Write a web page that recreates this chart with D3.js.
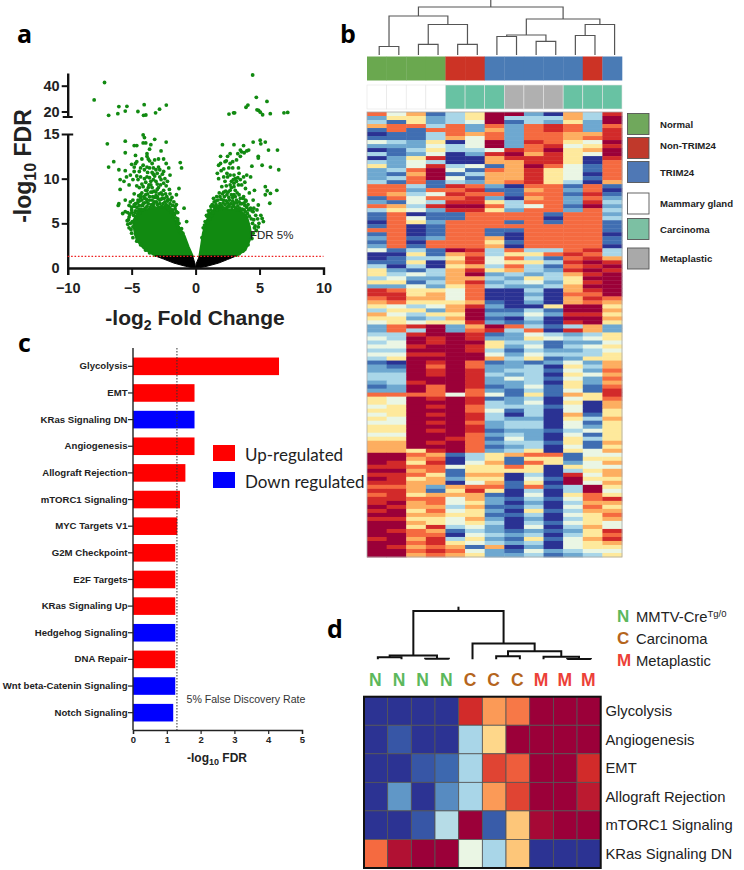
<!DOCTYPE html>
<html><head><meta charset="utf-8">
<script src="https://cdnjs.cloudflare.com/ajax/libs/d3/7.8.5/d3.min.js"></script>
<style>
html,body{margin:0;padding:0;background:#fff}
svg{display:block;font-family:"Liberation Sans",Arial,sans-serif}
</style></head><body><div id="c"></div>
<script>
// ---------- panel a : volcano ----------
const volcanoUpperLeft=[[-7.12,42.5],[-7.93,29],[-6.8,17],[-6,23.8],[-6.08,18.3],[-5.37,24],[-5.5,20.3],[-4.51,20],[-4.02,25.3],[-4.07,17],[-3.89,17.3],[-3.13,19],[-2.82,21.8],[-2.29,25]];
const volcanoUpperRight=[[4.46,48.3],[4.75,31],[4.09,25],[3.94,23.3],[5.58,27.8],[2.61,18],[2.97,19],[3.05,19],[4.8,21.3],[4.93,20.8],[5.06,19.5],[5.24,17.5],[5.84,18.3],[6.91,19],[7.2,19.3]];
const volcanoLeft=[[-6.9,13.9],[-5.5,14.2],[-5.5,12.9],[-4.8,13.7],[-4.6,13.7],[-4.1,14.9],[-4,14.6],[-4.1,14],[-3.9,14],[-3.2,14.4],[-3.5,13.8],[-3.6,13.3],[-3.8,12.8],[-3.8,12.5],[-2.3,14.1],[-2.7,13.1],[-6.4,11.9],[-6.8,11.3],[-4.7,12.6],[-4.7,11.7],[-4.6,11.9],[-4.8,11.3],[-6,11],[-5.5,10.9],[-4.2,12.2],[-3.7,12.2],[-3.6,12],[-2.9,12.2],[-2.5,12.2],[-1.2,11.8],[-1.1,11.2],[-2.3,11.7],[-2.1,11.2],[-4.3,11.2],[-4,11],[-3.6,11.2],[-3.3,11.2],[-3.1,11],[-2.9,11.3],[-2.8,11],[-2.5,10.8],[-5.9,9.9],[-5.4,10.2],[-5.1,10.4],[-5.6,9.7],[-5.2,9.3],[-4.9,9.9],[-4.5,9.9],[-4.3,10.2],[-3.8,10.2],[-3.3,9.9],[-3.1,9.7],[-3.5,9.3],[-2.8,10.2],[-2.4,10],[-2,10.4],[-1.3,8.9],[-5.9,8.8],[-4.1,9.1],[-3.8,8.7],[-4.8,8.3],[-4.3,8.2],[-3.4,8.5],[-3.1,8.5],[-2.5,8.7],[-2,8.3],[-1.5,8.2],[-6,7.2],[-6.05,7],[-5.7,6.1],[-5.5,6.3],[-0.9,6.7],[-0.7,5.2],[-5.5,7.6],[-5.1,7.4],[-4.9,7.6],[-4.5,7.6],[-5.2,7],[-5,6.8],[-4.7,7.2],[-4.4,7],[-4.2,7.6],[-4,7.8],[-3.8,7.4],[-3.6,8],[-3.4,7.6],[-3.2,7.9],[-3,8],[-2.8,7.6],[-2.6,7.8],[-2.4,7.4],[-2.2,7.5],[-2,7.2],[-1.8,7],[-1.6,6.6],[-1.4,6.2],[-1.5,7.1],[-3.9,8.2],[-3.7,9],[-3.5,9.7],[-3.3,10.5],[-4.6,10.3],[-3.9,9.6],[-2.9,9],[-2.7,8.4],[-4.4,6.6],[-3,7.1],[-5.3,6.2],[-5,6.2],[-4.7,6.4],[-5.2,5.7],[-5.1,5],[-5.2,4.5],[-5,3.9],[-4.9,3.4],[-4.6,3],[-4.3,2.6],[-3.9,2],[-3.6,1.7],[-1.4,5.5],[-1.1,4.4],[-1,3.9],[-5.35,5.3],[-4.8,6.9],[-4.1,7.2],[-3.3,7.2],[-2.1,6.9],[-1.75,6.2],[-1.45,5.1]];
const volcanoLeftB=[[-5.3,4.9],[-5.25,5.4],[-5.15,6],[-5.05,4.3],[-5,6.5],[-4.95,5.2],[-4.9,4.6],[-4.85,5.9],[-4.8,7.1],[-4.75,6.2],[-4.7,3.8],[-4.65,5.6],[-4.6,6.8],[-4.55,7.3],[-4.5,6.4],[-4.45,8.1],[-4.4,7.5],[-4.35,6.2],[-4.3,7.9],[-4.25,6.6],[-4.2,8.4],[-4.15,7],[-4.1,6.5],[-4.05,8],[-4,7.3],[-3.95,6.7],[-3.9,8.7],[-3.85,7.7],[-3.8,6.9],[-3.75,8.3],[-3.7,7.2],[-3.65,9.3],[-3.6,7.6],[-3.55,6.8],[-3.5,8.5],[-3.45,7.1],[-3.4,9],[-3.35,8],[-3.3,6.9],[-3.25,8.6],[-3.2,7.4],[-3.15,6.7],[-3.1,8.1],[-3.05,7.4],[-3,8.8],[-2.95,7.8],[-2.9,6.8],[-2.85,8.3],[-2.8,7.2],[-2.75,9.3],[-2.7,7.7],[-2.65,6.9],[-2.6,8.2],[-2.55,7.2],[-2.5,9.5],[-2.45,7.8],[-2.4,6.9],[-2.35,8.3],[-2.3,7.1],[-2.25,8],[-2.2,6.8],[-2.15,7.7],[-2.1,6.5],[-2.05,8.8],[-2,6.7],[-1.95,7.6],[-1.9,6.3],[-1.85,7.9],[-1.8,6.5],[-1.75,5.7],[-1.7,7.4],[-1.65,6],[-1.6,6.9],[-1.55,5.6],[-1.5,6.3],[-1.45,4.8],[-1.4,5.3],[-1.35,4.5],[-1.3,5],[-1.25,4.1],[-1.15,3.9],[-4.6,9.2],[-4.2,9.4],[-4,10],[-3.75,10.7],[-3.6,10.1],[-3.4,10.7],[-3.2,10.3],[-3,10.6],[-3,9.4],[-2.7,9.9],[-2.6,10.5],[-2.3,9.2],[-2.2,9.7],[-4.4,9],[-4.4,10.8],[-4.8,10.8],[-5,11.6],[-4.1,11.5],[-3.8,11.3],[-3.4,11.7],[-3.2,12.1]];
const volcanoRight=[[2.1,13.8],[3,13.8],[3.75,13.7],[4.5,14.1],[5.05,14.3],[5.45,14.1],[5.1,13.9],[5.7,13.2],[6.4,13.2],[2.7,12.8],[1.95,12.5],[2.3,11.9],[1.95,11.7],[2.7,11.7],[3.5,12.5],[3.6,13],[4.15,13.2],[3.5,13.2],[4.4,11.4],[5.2,11.5],[5.85,11.3],[6.5,11],[4.9,12.5],[4.9,12.3],[1.8,11.5],[1.7,10.6],[2.6,11.2],[2.45,10.6],[3,10.4],[3.35,11.2],[4,10.4],[3.75,10.2],[3.1,10],[3,9.5],[3.2,9.7],[1.8,10],[2.3,9.7],[2.05,9.1],[2.7,8.7],[3.35,9.3],[3.9,8.9],[5.45,9.1],[5.6,8.65],[5.85,8.35],[6.35,8.7],[5.45,8.2],[5.8,7.25],[4.5,7.6],[4.9,7.05],[3.75,8],[3,8.2],[2.45,8.2],[1.4,7.8],[1.65,8],[2.2,7.6],[3.5,7.2],[1.4,6.9],[4.15,6.5],[4.8,6.5],[5.2,5.55],[5.3,5.2],[4.55,5.4],[4.9,4.6],[4.5,3.9],[2.6,7.9],[2.9,7.5],[3.2,7.6],[3.4,8.2],[2.2,8.5],[2.4,9.2],[2.8,9],[3.1,8.7],[1.9,8],[4.1,7.1],[4.3,6.7],[1,6.4],[0.85,5.9],[3.8,7.3],[2,7],[2.6,7],[3,6.9],[3.3,6.95],[4.5,6.3],[0.75,5.2],[0.6,4.5],[0.5,3.4],[4.65,4.7],[4.4,3.3],[4.1,2.6],[3.7,1.9],[3.4,1.6],[3.9,7.6],[1.6,7.5],[1.2,6.9],[2.95,9.9]];
const volcanoRightB=[[0.7,4.8],[0.75,4.3],[0.9,5.8],[0.95,5.1],[1.05,6.1],[1.1,5.5],[1.2,6.5],[1.25,5.9],[1.3,7.1],[1.35,6.2],[1.45,7.4],[1.5,6.6],[1.55,6.9],[1.6,7.1],[1.7,6.5],[1.75,7.6],[1.8,6.9],[1.85,8.4],[1.9,7.2],[1.95,6.6],[2,7.7],[2.05,6.9],[2.1,8.3],[2.15,7.3],[2.2,6.7],[2.25,8],[2.3,7.1],[2.35,8.6],[2.4,7.5],[2.45,6.8],[2.5,7.3],[2.55,8.5],[2.6,6.9],[2.65,7.6],[2.7,9.3],[2.75,7.2],[2.8,8.2],[2.85,6.8],[2.9,7.9],[2.95,7.1],[3,9.1],[3.05,7.3],[3.1,8],[3.15,6.7],[3.2,7.3],[3.25,8.4],[3.3,6.6],[3.4,7.4],[3.45,6.7],[3.5,7.8],[3.55,6.5],[3.6,7.2],[3.65,6.6],[3.7,7.8],[3.8,6.5],[3.85,7],[3.9,6.3],[3.95,7.5],[4,6.8],[4.05,6.1],[4.2,5.8],[4.35,5.5],[4.4,6.4],[4.45,5],[4.55,6.7],[4.6,4.5],[4.7,5.9],[4.75,4.2],[4.85,5.5],[4.95,5],[5.1,5.9],[2.2,10.2],[2.5,10.2],[2.7,10.4],[2.8,9.7],[3.3,10.1],[3.5,9.9],[3.6,9.3],[3.4,10.6],[2.2,11.1],[2.4,12],[2.9,11.9],[3.2,12.1],[3.8,12.9],[4,13.1],[3.3,12.8],[2.5,12.5],[2,10.9],[2.9,11.2],[3.85,9.6],[4.3,10.2],[4.2,8.4],[4.6,8.7]];
const denseLeft=[[-3.15,1.35],[-4.07,2.2],[-4.6,3.1],[-4.8,4.25],[-4.9,5.2],[-4.5,6.3],[-3.5,6.7],[-2.5,6.8],[-1.9,6.3],[-1.6,5.3],[-1.2,4.4],[-0.86,3.6],[-0.55,2.4],[-0.23,1.35]];
const denseRight=[[0.3,1.35],[0.44,2.6],[0.57,3.9],[0.83,5.2],[1.15,6.2],[1.7,6.8],[2.45,6.6],[3.5,6.4],[4,5.8],[4.25,4.6],[4.35,3.5],[3.9,2],[3.18,1.35]];
const nonSigLeft=[[-3.15,1.35],[-2.5,1],[-1.7,0.55],[-0.8,0.2],[0,-0.05],[-0.05,0.5],[-0.23,1.35]];
const nonSigRight=[[3.18,1.35],[2.5,0.95],[1.8,0.55],[0.9,0.2],[0,-0.05],[0.05,0.5],[0.3,1.35]];
const volcanoXTicks=[-10,-5,0,5,10];
const volcanoYTicks=[0,5,10,15];
const volcanoUpperTicks=[20,40];
const fdrLine=1.3;

// ---------- panel b : heat map ----------
const sampleGroups=["N","N","N","N","O","O","T","T","T","T","T","O","T"];
const tissueGroups=["M","M","M","M","C","C","C","P","P","P","C","C","C"];
const heatRowsB=[
"7461359920638","2552359333639","3152349132529","6773727278727","1717726278728","0113767277668","1113647277678",
"4325049287549","2224349278458","0135334879569","3124028968549","0258006888508","3243006688507","5248341697417",
"2379417685417","2169136685407","2379416685417","3171326785306","7731872077171","7727781167270","7634877177181",
"1747782067272","2143885377283","7638997347192","3542885277273","1701177771772","1741177770773","0752777171771",
"1701777777771","7701771177771","1701771077770","2712776077771","1707775177771","2717776077770","4131983733783",
"0051673557873","0133584731786","1150684553898","3030563731789","5213685632898","5343692323689","3422663253599",
"5513682342589","2242573223699","8755470030689","8856470020779","7866470030687","6755561020676","5434682005995",
"3552691131996","6435592242885","5523691030996","4545582120895","2789269731362",
"2739278370862","3389981243235","4398982254345","3498995331224","4489985241345","3399983132234","4488994243335",
"3599996351255","1098971212426","2197972230536","2298982331427","3398983230546","3399982431427","2389982230526",
"1297981241517","2297972131418","7777474151658","5498981230457","5499983240506","4598973331406","5599974130405",
"4598983030615","5499983220536","4498972330415","5599982330425","5598981221345","4499972320415","5599871420535",
"6698972331516","6699971230415","6658972350546","9976135677144","9967035155155","9858046175246","8877455750544",
"9967155550356","8875166030846","9856255041955","8866046150946","7762677171395","8861585030394","7856661040575",
"8877462131478","8967452020366","9866361130475","8957452051366","9966551130457","8855462020356","9965453031454",
"9958342040364","9876132121258","9977043230357","8968352151468","9978543230456","9867616020455","9978742142344",
"9967652231235"];
const treeB={h:48,c:[{h:39,c:[{h:8.5,c:[0,1]},{h:30.5,c:[{h:10.7,c:[2,3]},{h:10.7,c:[4,5]}]}]},{h:36,c:[{h:20,c:[{h:18.5,c:[6,7]},{h:13.7,c:[8,9]}]},{h:30.5,c:[{h:19.5,c:[10,11]},12]}]}]};
const legendB=[["Normal","N"],["Non-TRIM24","O"],["TRIM24","T"],["Mammary gland","M"],["Carcinoma","C"],["Metaplastic","P"]];

// ---------- panel c : bars ----------
const pathways=["Glycolysis","EMT","KRas Signaling DN","Angiogenesis","Allograft Rejection","mTORC1 Signaling","MYC Targets V1","G2M Checkpoint","E2F Targets","KRas Signaling Up","Hedgehog Signaling","DNA Repair","Wnt beta-Catenin Signaling","Notch Signaling"];
const pathwayFdr=[4.32,1.82,1.82,1.82,1.55,1.39,1.31,1.25,1.25,1.25,1.25,1.25,1.25,1.19];
const pathwayDir=["U","U","D","U","U","U","U","U","U","U","D","U","D","D"];

// ---------- panel d : pathway heat map ----------
const sampleLettersD=["N","N","N","N","C","C","C","M","M","M"];
const pathwaysD=["Glycolysis","Angiogenesis","EMT","Allograft Rejection","mTORC1 Signaling","KRas Signaling DN"];
const heatRowsD=[
[0,0,0,0,8,6.3,6.8,9,9,9],
[0,0.6,0,0,3,5.3,9,9,9,9],
[0,0,0.6,0.9,3,7.6,7.2,9,9,8],
[0,1.7,0,1.5,3,6.3,7.6,9,9,8.4],
[0,0,0.6,3.2,9,0.7,5.6,8.8,9,9],
[7,8.6,9,9,4,3,5.6,0,0,0]];
const treeD={h:46,c:[{h:3.5,c:[{h:2,c:[0,1]},{h:0.5,c:[2,3]}]},{h:15,c:[4,{h:7.7,c:[{h:3,c:[5,6]},{h:2.5,c:[7,{h:0.3,c:[8,9]}]}]}]}]};
const legendD=[["N","MMTV-Cre"],["C","Carcinoma"],["M","Metaplastic"]];

// ---------- colours ----------
const heatColor=d3.scaleLinear().domain([0,1,2,3,4,5,6,7,8,9])
  .range(["#2c3393","#3f6eb2","#6ea8d0","#a9d6e8","#eaf6e4","#fee99c","#fdae61","#f56a40","#d22b2a","#9b0039"]);
const sampleColor={N:"#6aa84f",O:"#cc3325",T:"#4a7bb5"};
const tissueColor={M:"#ffffff",C:"#68c2a3",P:"#b0b0b0"};
const legendBColor={N:"#70a85c",O:"#c0392b",T:"#4f78b5",M:"#ffffff",C:"#7cc0a3",P:"#a9a9a9"};
const dirColor={U:"#ff0000",D:"#0000ff"};
const letterColor={N:"#5cb85c",C:"#b5651d",M:"#ec4138"};

const svg=d3.select("#c").append("svg").attr("width",744).attr("height",870);
const defs=svg.append("defs");
defs.append("filter").attr("id","soft").attr("x","-2%").attr("y","-2%").attr("width","104%").attr("height","104%")
  .append("feGaussianBlur").attr("stdDeviation","0.5 0.7");
const label=(x,y,t)=>svg.append("text").attr("x",x).attr("y",y).text(t)
  .attr("font-family","'Open Sans',sans-serif").attr("font-weight",700).attr("font-size",25).attr("fill","#000");
label(17,43,"a");label(340,43,"b");label(18,352,"c");label(327,638,"d");

// ---- panel a
const xV=d3.scaleLinear().domain([-10,10]).range([67.7,323.5]);
const yV=d3.scaleLinear().domain([0,15]).range([268,134]);
const yU=d3.scaleLinear().domain([20,40]).range([111.5,85.7]);
const green="#118a11";
const gA=svg.append("g");
const areaLine=d3.line().x(d=>xV(d[0])).y(d=>yV(d[1])).curve(d3.curveLinear);
[denseLeft,denseRight].forEach(p=>gA.append("path").attr("d",areaLine(p)+"Z").attr("fill",green).attr("stroke",green).attr("stroke-width",2));
gA.selectAll("circle.l").data(volcanoLeft.concat(volcanoLeftB,volcanoRight,volcanoRightB)).join("circle").attr("class","l")
  .attr("cx",d=>xV(d[0])).attr("cy",d=>yV(d[1])).attr("r",1.9).attr("fill",green);
gA.selectAll("circle.u").data(volcanoUpperLeft.concat(volcanoUpperRight)).join("circle").attr("class","u")
  .attr("cx",d=>xV(d[0])).attr("cy",d=>yU(d[1])).attr("r",1.9).attr("fill",green);
[nonSigLeft,nonSigRight].forEach(p=>gA.append("path").attr("d",areaLine(p)+"Z").attr("fill","#000").attr("stroke","#000"));
const axisStyle=(g,fs)=>{g.select(".domain").attr("stroke-width",2.4).attr("stroke","#111");
  g.selectAll(".tick line").attr("stroke-width",2).attr("stroke","#111");
  g.selectAll("text").attr("font-size",fs).attr("font-weight",700).attr("fill","#222");};
const axX=svg.append("g").attr("transform","translate(0,268)")
  .call(d3.axisBottom(xV).tickValues(volcanoXTicks).tickSize(7).tickSizeOuter(7).tickFormat(d3.format("d")));
axisStyle(axX,14.5);axX.selectAll("text").attr("dy",0).attr("y",25);
const axY=svg.append("g").attr("transform","translate(67.7,0)")
  .call(d3.axisLeft(yV).tickValues(volcanoYTicks).tickSize(6).tickSizeOuter(0));
axisStyle(axY,14.5);axY.selectAll("text").attr("x",-8);
axY.selectAll(".tick").filter(d=>d===15).select("line").attr("x1",5.5).attr("x2",-6);
axY.selectAll(".tick").filter(d=>d===0).select("line").attr("x2",0);
const axU=svg.append("g").attr("transform","translate(67.7,0)")
  .call(d3.axisLeft(yU.copy().domain([yU.invert(117),yU.invert(73)]).range([117,73])).tickValues(volcanoUpperTicks).tickSize(6).tickSizeOuter(0));
axisStyle(axU,14.5);axU.selectAll("text").attr("x",-8);
axU.append("line").attr("x1",-5).attr("x2",5).attr("y1",117).attr("y2",117).attr("stroke","#111").attr("stroke-width",2);
svg.append("line").attr("x1",xV(-10)).attr("x2",xV(10)).attr("y1",yV(fdrLine)).attr("y2",yV(fdrLine))
  .attr("stroke","#ee2222").attr("stroke-width",1.4).attr("stroke-dasharray","1.6 1.8");
svg.append("text").attr("x",250).attr("y",239).attr("font-size",11.5).attr("fill","#222").text("FDR 5%");
const ylab=svg.append("text").attr("transform","translate(31,166) rotate(-90)").attr("text-anchor","middle")
  .attr("font-size",23).attr("font-weight",700).attr("fill","#222");
ylab.append("tspan").text("-log");ylab.append("tspan").text("10").attr("font-size",16).attr("dy",5);ylab.append("tspan").text(" FDR").attr("dy",-5);
const xlab=svg.append("text").attr("x",195).attr("y",325).attr("text-anchor","middle")
  .attr("font-size",21).attr("font-weight",700).attr("fill","#222");
xlab.append("tspan").text("-log");xlab.append("tspan").text("2").attr("font-size",14).attr("dy",5);xlab.append("tspan").text(" Fold Change").attr("dy",-5);

// ---- dendrogram helper
function drawTree(root,xOf,yOf,baseH,stroke,width,top){
  const g=svg.append("g").attr("fill","none").attr("stroke",stroke).attr("stroke-width",width);
  const walk=n=>{
    if(typeof n==="number")return {x:xOf(n),y:yOf(baseH)};
    const kids=n.c.map(walk);
    const y=yOf(n.h);
    const x=d3.mean(kids,k=>k.x);
    g.append("path").attr("d",d3.line()([[kids[0].x,kids[0].y],[kids[0].x,y],[kids[1].x,y],[kids[1].x,kids[1].y]]));
    return {x,y};
  };
  const r=walk(root);
  g.append("line").attr("x1",r.x).attr("x2",r.x).attr("y1",r.y).attr("y2",top);
}

// ---- panel b
const cols=d3.range(13);
const xB=d3.scaleBand().domain(cols).range([367,622]);
const yB=d3.scaleBand().domain(d3.range(heatRowsB.length)).range([112,557]);
drawTree(treeB,i=>xB(i)+xB.bandwidth()/2+2.4,d3.scaleLinear().domain([0,55]).range([55,0]),0,"#555",1.2,0);
svg.append("g").selectAll("rect").data(sampleGroups).join("rect")
  .attr("x",(d,i)=>xB(i)).attr("width",xB.bandwidth()+.3).attr("y",56.5).attr("height",24).attr("fill",d=>sampleColor[d]);
svg.append("g").selectAll("rect").data(tissueGroups).join("rect")
  .attr("x",(d,i)=>xB(i)).attr("width",xB.bandwidth()).attr("y",85).attr("height",24).attr("fill",d=>tissueColor[d])
  .attr("stroke","#e4e4e4").attr("stroke-width",.6);
const gB=svg.append("g").attr("filter","url(#soft)");
heatRowsB.forEach((row,r)=>{
  gB.selectAll(null).data(row.split("").map(Number)).join("rect")
    .attr("x",(d,i)=>xB(i)).attr("y",yB(r)).attr("width",xB.bandwidth()+.4).attr("height",yB.bandwidth()+.4)
    .attr("fill",d=>heatColor(d));
});
svg.append("rect").attr("x",367).attr("y",112).attr("width",255).attr("height",445).attr("fill","none").attr("stroke","#aaa").attr("stroke-width",.8);
const legY=d3.scaleOrdinal().domain(legendB.map(d=>d[1])).range([113.5,137.5,161.5,193,218.5,248]);
const gL=svg.append("g").selectAll("g").data(legendB).join("g").attr("transform",d=>`translate(627.5,${legY(d[1])})`);
gL.append("rect").attr("width",21.5).attr("height",21).attr("fill",d=>legendBColor[d[1]]).attr("stroke","#555").attr("stroke-width",.9);
gL.append("text").attr("x",32.5).attr("y",d=>d[1]==="O"?11:14).text(d=>d[0]).attr("font-size",9.6).attr("font-weight",700).attr("fill","#222");

// ---- panel c
const xC=d3.scaleLinear().domain([0,5]).range([133,302]);
const yC=d3.scaleBand().domain(pathways).range([353,726]).paddingInner(.34).paddingOuter(.17);
svg.append("g").selectAll("rect").data(pathways).join("rect")
  .attr("x",xC(0)).attr("y",d=>yC(d)).attr("height",yC.bandwidth())
  .attr("width",(d,i)=>xC(pathwayFdr[i])-xC(0)).attr("fill",(d,i)=>dirColor[pathwayDir[i]]);
svg.append("line").attr("x1",xC(fdrLine)).attr("x2",xC(fdrLine)).attr("y1",348).attr("y2",730)
  .attr("stroke","#333").attr("stroke-width",1).attr("stroke-dasharray","1.5 1.5");
const axCy=svg.append("g").attr("transform","translate(133,0)").call(d3.axisLeft(yC).tickSize(5).tickSizeOuter(0));
axCy.select(".domain").attr("d","M0,348V730").attr("stroke","#222").attr("stroke-width",1.4);
axCy.selectAll(".tick line").attr("stroke","#222").attr("stroke-width",1.2);
axCy.selectAll("text").attr("x",-5.5).attr("font-size",9.6).attr("font-weight",700).attr("fill","#222");
const axCx=svg.append("g").attr("transform","translate(0,730)").call(d3.axisBottom(xC).ticks(5).tickSize(4).tickSizeOuter(4));
axCx.select(".domain").attr("stroke","#222").attr("stroke-width",1.4);
axCx.selectAll(".tick line").attr("stroke","#222").attr("stroke-width",1.2);
axCx.selectAll("text").attr("font-size",9.5).attr("font-weight",700).attr("fill","#222").attr("y",6);
const xlc=svg.append("text").attr("x",217).attr("y",762).attr("text-anchor","middle").attr("font-size",12).attr("font-weight",700).attr("fill","#222");
xlc.append("tspan").text("-log");xlc.append("tspan").text("10").attr("font-size",9).attr("dy",3);xlc.append("tspan").text(" FDR").attr("dy",-3);
svg.append("text").attr("x",186.5).attr("y",703).attr("font-size",10.6).attr("fill","#333").text("5% False Discovery Rate");
const legC=[["Up-regulated","U",445],["Down regulated","D",472]];
legC.forEach(([t,k,y])=>{
  svg.append("rect").attr("x",213).attr("y",y).attr("width",22).attr("height",16).attr("fill",dirColor[k]);
  svg.append("text").attr("x",245).attr("y",y+16).attr("font-family","Lato,sans-serif").attr("font-size",17).attr("fill","#222").text(t);
});

// ---- panel d
const xD=d3.scaleBand().domain(d3.range(10)).range([364,600.7]);
const yD=d3.scaleBand().domain(pathwaysD).range([696.7,868]);
drawTree(treeD,i=>xD(i)+xD.bandwidth()/2+2,d3.scaleLinear().domain([0,50]).range([659.3,606.7]),0,"#111",2,606.7);
svg.append("g").selectAll("text").data(sampleLettersD).join("text")
  .attr("x",(d,i)=>xD(i)+xD.bandwidth()/2-.5).attr("y",686).attr("text-anchor","middle")
  .attr("font-size",17.5).attr("font-weight",700).attr("fill",d=>letterColor[d]).text(d=>d);
const gD=svg.append("g");
heatRowsD.forEach((row,r)=>{
  gD.selectAll(null).data(row).join("rect")
    .attr("x",(d,i)=>xD(i)).attr("y",yD(pathwaysD[r])).attr("width",xD.bandwidth()).attr("height",yD.bandwidth())
    .attr("fill",d=>heatColor(d)).attr("stroke","#555").attr("stroke-width",.8);
});
svg.append("rect").attr("x",364).attr("y",696.7).attr("width",236.7).attr("height",171.3).attr("fill","none").attr("stroke","#111").attr("stroke-width",2);
svg.append("g").selectAll("text").data(pathwaysD).join("text")
  .attr("x",605.5).attr("y",d=>yD(d)+yD.bandwidth()/2+5).attr("font-size",14.8).attr("fill","#222").text(d=>d);
const legDY=[622,644,666];
legendD.forEach(([k,t],i)=>{
  svg.append("text").attr("x",617).attr("y",legDY[i]).attr("font-size",17).attr("font-weight",700).attr("fill",letterColor[k]).text(k);
  const tx=svg.append("text").attr("x",636).attr("y",legDY[i]).attr("font-size",14.8).attr("fill","#222").text(t);
  if(k==="N")tx.append("tspan").text("Tg/0").attr("font-size",9.5).attr("dy",-5);
});
// the axis generator stamps its own font on its group; let the page font through
svg.selectAll("g").attr("font-family",null).attr("font-size",null);
</script></body></html>
